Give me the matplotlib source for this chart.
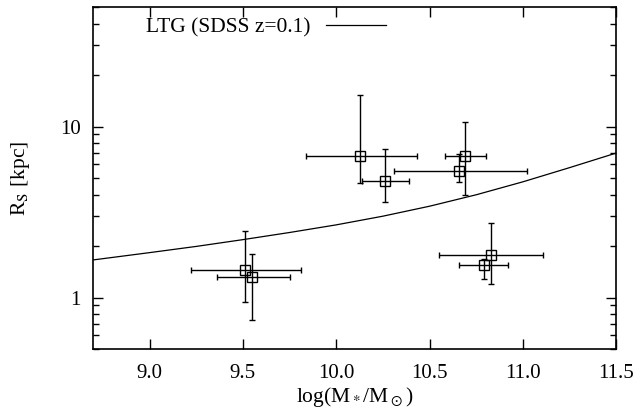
import matplotlib

matplotlib.use('Agg')
import numpy as np
import matplotlib.pyplot as plt
from matplotlib.ticker import LogLocator, NullFormatter

plt.rcParams['font.family'] = ['Liberation Serif', 'DejaVu Serif']
plt.rcParams['mathtext.fontset'] = 'stix'

# measured galaxies: log stellar mass and size
logm = [10.13, 10.26, 10.69, 10.66, 10.83, 10.79, 9.51, 9.55]
logm_lo = [9.84, 10.14, 10.58, 10.31, 10.55, 10.66, 9.22, 9.36]
logm_hi = [10.43, 10.39, 10.80, 11.02, 11.11, 10.92, 9.81, 9.75]
rs = [6.7, 4.8, 6.7, 5.5, 1.78, 1.54, 1.44, 1.31]
rs_lo = [4.7, 3.6, 3.97, 4.75, 1.2, 1.29, 0.94, 0.74]
rs_hi = [15.3, 7.4, 10.65, 6.9, 2.71, 1.68, 2.45, 1.79]

# LTG relation (SDSS z=0.1)
ltg_logm = [8.7, 9.0, 9.25, 9.5, 9.75, 10.0, 10.25, 10.5, 10.75, 11.0, 11.25, 11.5]
ltg_rs = [1.66, 1.83, 1.99, 2.18, 2.40, 2.66, 2.99, 3.42, 3.99, 4.75, 5.75, 7.0]

x = np.array(logm)
y = np.array(rs)
xerr = [x - np.array(logm_lo), np.array(logm_hi) - x]
yerr = [y - np.array(rs_lo), np.array(rs_hi) - y]

fig = plt.figure(figsize=(6.36, 4.13), dpi=100)
ax = fig.add_axes([0.147, 0.155, 0.822, 0.828])

ax.plot(ltg_logm, ltg_rs, color='black', lw=0.9, label='LTG (SDSS z=0.1)')
ax.errorbar(x, y, xerr=xerr, yerr=yerr, fmt='s', mfc='none', mec='black',
            ms=6.5, mew=1.0, color='black', ecolor='black', elinewidth=1.0,
            capsize=2.5, capthick=1.0)

ax.set_yscale('log')
ax.set_xlim(8.7, 11.5)
ax.set_ylim(0.5, 50)
ax.set_xticks([9.0, 9.5, 10.0, 10.5, 11.0, 11.5])
ax.set_xticklabels(['9.0', '9.5', '10.0', '10.5', '11.0', '11.5'])
ax.set_yticks([1, 10])
ax.set_yticklabels(['1', '10'])
ax.yaxis.set_minor_locator(LogLocator(base=10, subs=np.arange(2, 10)))
ax.yaxis.set_minor_formatter(NullFormatter())

ax.tick_params(which='both', direction='in', top=True, right=True, labelsize=15)
ax.tick_params(which='major', length=7, width=1.0)
ax.tick_params(which='minor', length=4, width=1.0)
ax.tick_params(axis='x', which='major', pad=11)
ax.tick_params(axis='y', which='major', pad=9)
for s in ax.spines.values():
    s.set_linewidth(1.2)

ax.set_xlabel(r'log(M$_*$/M$_\odot$)', fontsize=15.5, labelpad=1)
ax.set_ylabel(r'R$_\mathrm{S}$ [kpc]', fontsize=15.5, labelpad=20)

ax.legend(loc='upper left', frameon=False, markerfirst=False, fontsize=15.5,
          handlelength=2.8, handletextpad=0.7, borderaxespad=0.1,
          bbox_to_anchor=(0.08, 1.0))

fig.savefig('out.png', dpi=100)
